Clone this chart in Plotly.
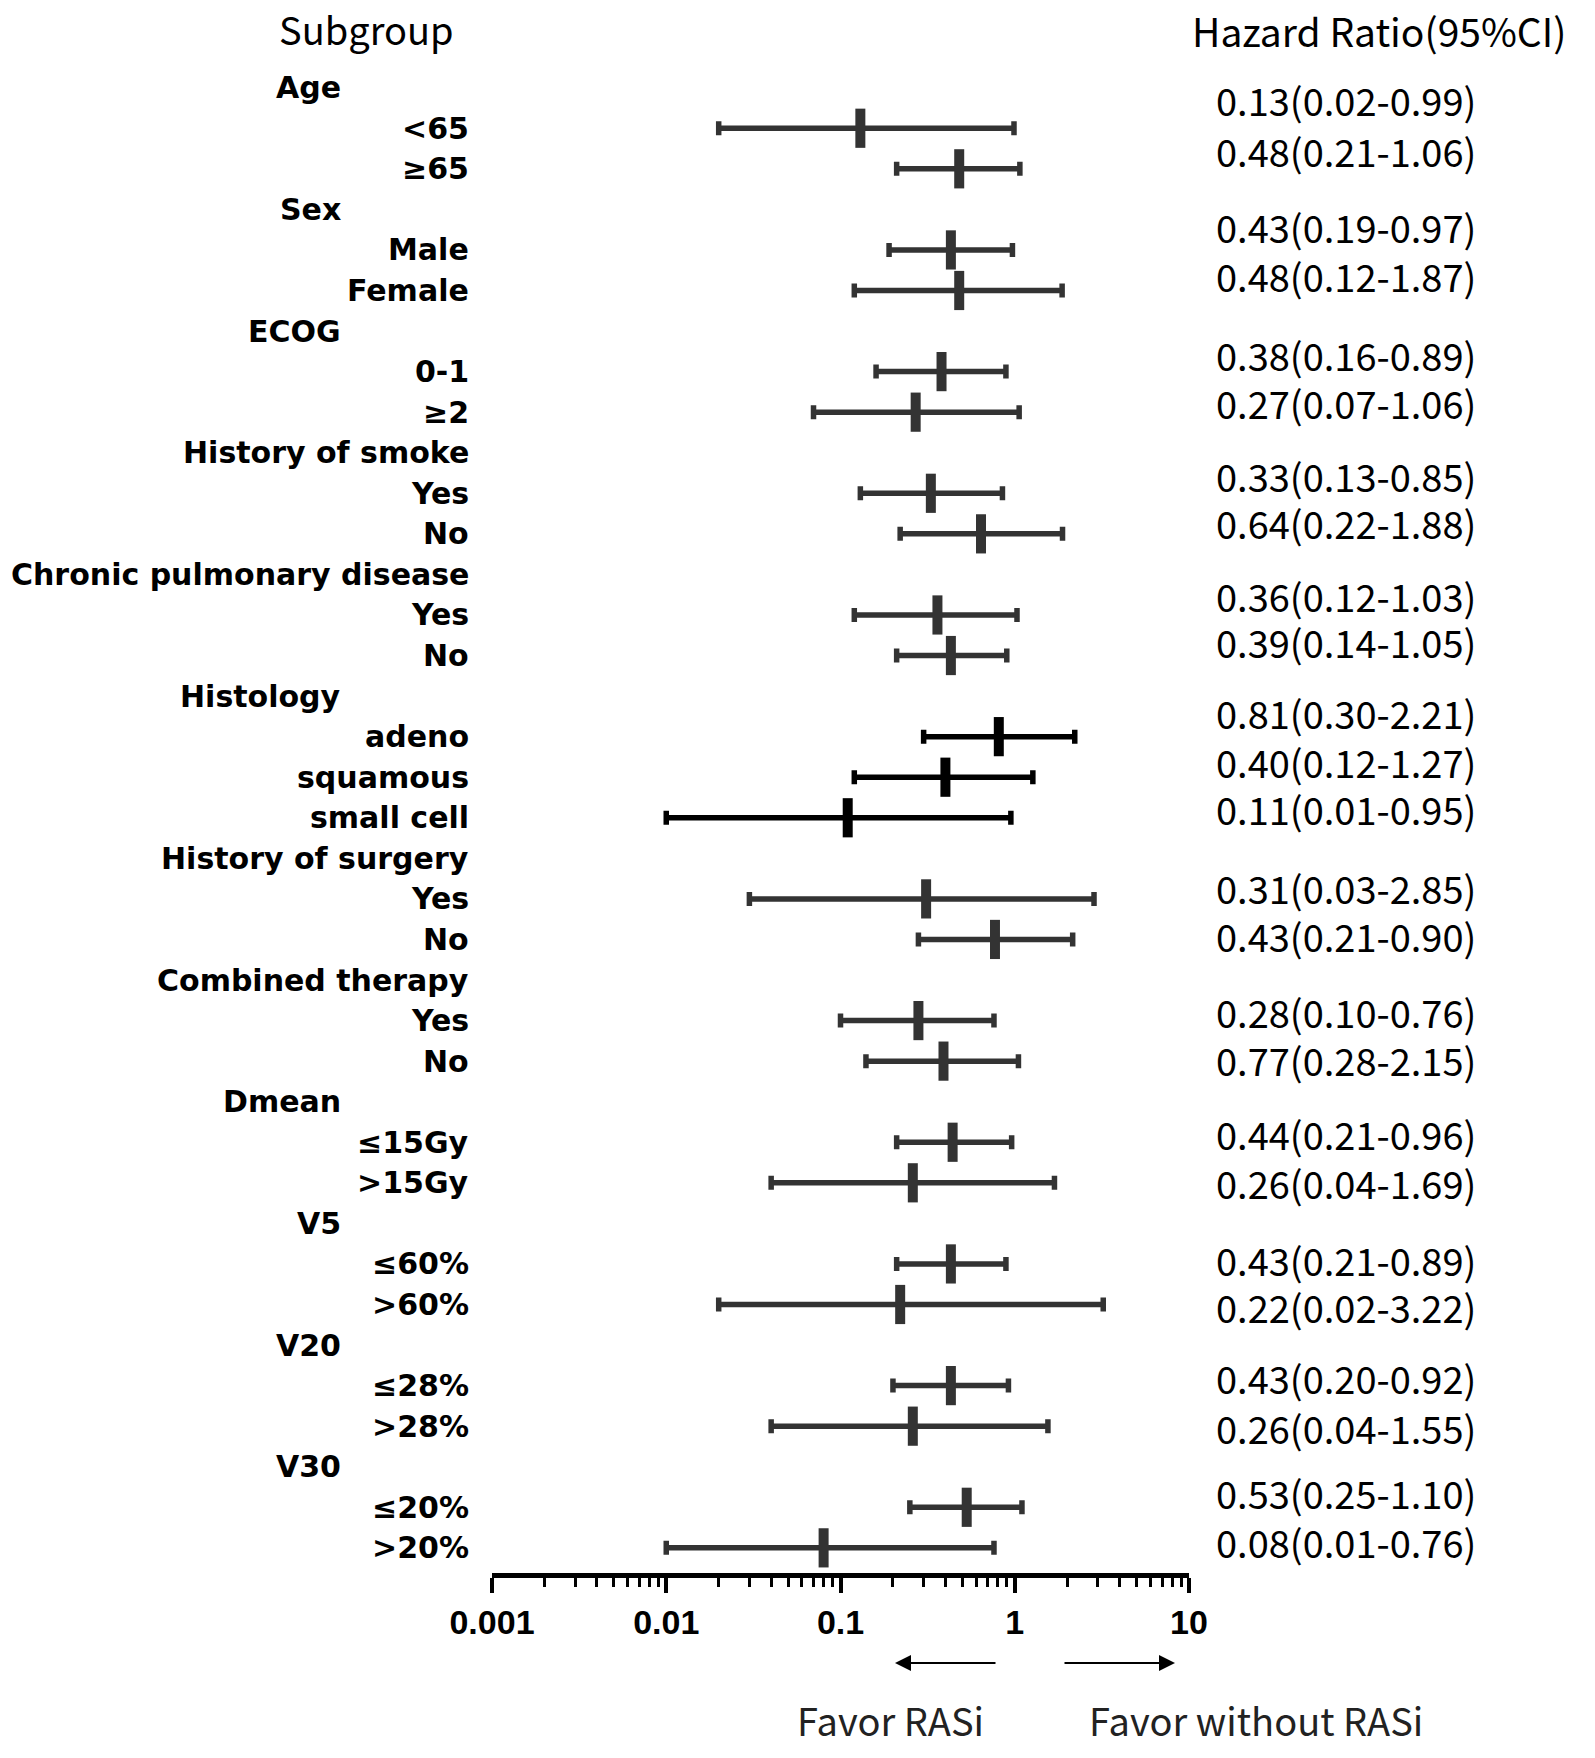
import plotly.graph_objects as go

# subgroup structure
groups = ["Age", "Sex", "ECOG", "History of smoke", "Chronic pulmonary disease",
          "Histology", "History of surgery", "Combined therapy", "Dmean", "V5", "V20", "V30"]
items = [["<65", "≥65"], ["Male", "Female"], ["0-1", "≥2"], ["Yes", "No"], ["Yes", "No"],
         ["adeno", "squamous", "small cell"], ["Yes", "No"], ["Yes", "No"],
         ["≤15Gy", ">15Gy"], ["≤60%", ">60%"], ["≤28%", ">28%"], ["≤20%", ">20%"]]

# hazard ratios as drawn in the plot (one per subgroup item)
hr = [0.13, 0.48, 0.43, 0.48, 0.38, 0.27, 0.33, 0.64, 0.36, 0.43, 0.81, 0.40, 0.11,
      0.31, 0.77, 0.28, 0.39, 0.44, 0.26, 0.43, 0.22, 0.43, 0.26, 0.53, 0.08]
ci_low = [0.02, 0.21, 0.19, 0.12, 0.16, 0.07, 0.13, 0.22, 0.12, 0.21, 0.30, 0.12, 0.01,
          0.03, 0.28, 0.10, 0.14, 0.21, 0.04, 0.21, 0.02, 0.20, 0.04, 0.25, 0.01]
ci_high = [0.99, 1.07, 0.97, 1.87, 0.89, 1.06, 0.85, 1.88, 1.03, 0.90, 2.21, 1.27, 0.95,
           2.85, 2.15, 0.76, 1.05, 0.96, 1.69, 0.89, 3.22, 0.92, 1.55, 1.10, 0.76]

# printed column on the right
hr_text = ["0.13(0.02-0.99)", "0.48(0.21-1.06)", "0.43(0.19-0.97)", "0.48(0.12-1.87)",
           "0.38(0.16-0.89)", "0.27(0.07-1.06)", "0.33(0.13-0.85)", "0.64(0.22-1.88)",
           "0.36(0.12-1.03)", "0.39(0.14-1.05)", "0.81(0.30-2.21)", "0.40(0.12-1.27)",
           "0.11(0.01-0.95)", "0.31(0.03-2.85)", "0.43(0.21-0.90)", "0.28(0.10-0.76)",
           "0.77(0.28-2.15)", "0.44(0.21-0.96)", "0.26(0.04-1.69)", "0.43(0.21-0.89)",
           "0.22(0.02-3.22)", "0.43(0.20-0.92)", "0.26(0.04-1.55)", "0.53(0.25-1.10)",
           "0.08(0.01-0.76)"]
# vertical placement of the printed column (row units)
hr_text_y = [0.30, 1.54, 3.43, 4.62, 6.59, 7.77, 9.55, 10.71, 12.51, 13.66, 15.41, 16.62,
             17.76, 19.73, 20.91, 22.78, 23.97, 25.79, 27.0, 28.9, 30.05, 31.8, 33.04,
             34.64, 35.85]

tick_vals = [0.001, 0.01, 0.1, 1, 10]
tick_text = ["0.001", "0.01", "0.1", "1", "10"]

W, H = 1595, 1758
L, R, T, B = 492, 1189, 61, 1573   # plot area in pixels


def px(p):
    return (p - L) / (R - L)


def py(p):
    return (B - p) / (B - T)


label_font = dict(family="DejaVu Sans", size=30, color="black", weight="bold")
cjk_font = dict(family="Noto Sans CJK SC", size=38, color="black")

annotations = []
rows_gray, rows_black = [], []
row = 0
k = 0
for g, its in zip(groups, items):
    annotations.append(dict(x=px(343) if len(g) < 11 else px(471), y=row, xref="paper", yref="y",
                            text=g, showarrow=False, xanchor="right", yanchor="middle",
                            font=label_font))
    row += 1
    for it in its:
        annotations.append(dict(x=px(471), y=row, xref="paper", yref="y", text=it,
                                showarrow=False, xanchor="right", yanchor="middle",
                                font=label_font))
        (rows_black if g == "Histology" else rows_gray).append((k, row))
        row += 1
        k += 1

for t, yy in zip(hr_text, hr_text_y):
    annotations.append(dict(x=px(1214), y=yy, xref="paper", yref="y", text=t, showarrow=False,
                            xanchor="left", yanchor="middle", font=cjk_font))

annotations.append(dict(x=px(366), y=py(28), xref="paper", yref="paper", text="Subgroup",
                        showarrow=False, xanchor="center", yanchor="middle",
                        font=dict(family="Noto Sans CJK SC", size=38, color="black")))
annotations.append(dict(x=px(1190), y=py(30), xref="paper", yref="paper",
                        text="Hazard Ratio(95%CI)", showarrow=False, xanchor="left",
                        yanchor="middle", font=dict(family="Noto Sans CJK SC", size=39, color="black")))

# direction arrows and captions
annotations.append(dict(x=px(895), y=py(1663), xref="paper", yref="paper", ax=102, ay=0,
                        text="", showarrow=True, arrowhead=2, arrowsize=1.6, arrowwidth=2,
                        arrowcolor="black"))
annotations.append(dict(x=px(1175), y=py(1663), xref="paper", yref="paper", ax=-112, ay=0,
                        text="", showarrow=True, arrowhead=2, arrowsize=1.6, arrowwidth=2,
                        arrowcolor="black"))
favor_font = dict(family="Noto Sans CJK SC", size=38, color="#222222")
annotations.append(dict(x=px(890), y=py(1719), xref="paper", yref="paper", text="Favor RASi",
                        showarrow=False, xanchor="center", yanchor="middle", font=favor_font))
annotations.append(dict(x=px(1256), y=py(1719), xref="paper", yref="paper",
                        text="Favor without RASi", showarrow=False, xanchor="center",
                        yanchor="middle", font=favor_font))

fig = go.Figure()
for rows, col in [(rows_gray, "#333333"), (rows_black, "#000000")]:
    idx = [r[0] for r in rows]
    fig.add_trace(go.Scatter(
        x=[hr[i] for i in idx],
        y=[r[1] for r in rows],
        mode="markers",
        marker=dict(symbol="line-ns", size=28, line=dict(width=10, color=col)),
        error_x=dict(type="data", symmetric=False,
                     array=[ci_high[i] - hr[i] for i in idx],
                     arrayminus=[hr[i] - ci_low[i] for i in idx],
                     color=col, thickness=5.5, width=7),
        showlegend=False, hoverinfo="skip"))

minor_vals = [m * 10 ** e for e in range(-3, 1) for m in range(2, 10)]

fig.update_layout(
    width=W, height=H,
    margin=dict(l=L, r=W - R, t=T, b=H - B, pad=0),
    paper_bgcolor="white", plot_bgcolor="white",
    showlegend=False,
    annotations=annotations,
    shapes=[dict(type="line", xref="x", yref="paper", x0=0, x1=0, y0=0, y1=1,
                 line=dict(color="#222222", width=2))],
    xaxis=dict(type="log", range=[-3, 1], showgrid=False, zeroline=False,
               showline=True, linecolor="black", linewidth=5,
               ticks="outside", ticklen=15, tickwidth=4, tickcolor="black",
               tickvals=tick_vals, ticktext=tick_text,
               tickfont=dict(family="Liberation Sans", size=34, color="black", weight="bold"),
               minor=dict(tickmode="array", tickvals=minor_vals, ticks="outside",
                          ticklen=9, tickwidth=3, tickcolor="black", showgrid=False)),
    yaxis=dict(range=[36.62, -0.658], visible=False, showgrid=False, zeroline=False),
)

fig.write_html("out.html", config={"displayModeBar": False},
               post_script="document.body.style.margin='0px';")
